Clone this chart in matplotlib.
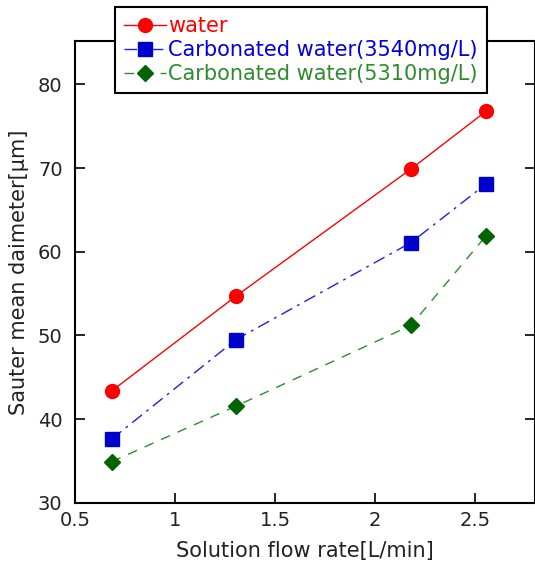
import matplotlib
matplotlib.use('Agg')
import matplotlib.pyplot as plt

# flow rate [L/min]
flow_rate = [0.683, 1.305, 2.18, 2.555]
water = [43.35, 54.7, 69.9, 76.8]
carb_3540 = [37.6, 49.5, 61.1, 68.1]
carb_5310 = [34.9, 41.55, 51.2, 61.9]

labels = ['water', 'Carbonated water(3540mg/L)', 'Carbonated water(5310mg/L)']
text_colors = ['red', '#0000dd', '#2e8b2e']

plt.rcParams['font.family'] = ['DejaVu Sans', 'Noto Sans CJK JP']
plt.rcParams['font.size'] = 14

fig = plt.figure(figsize=(5.35, 5.62), dpi=100)
ax = fig.add_axes([75 / 535, 59.3 / 562, 460 / 535, 461.7 / 562])

ax.plot(flow_rate, water, color='red', lw=1, marker='o', ms=10, label=labels[0])
ax.plot(flow_rate, carb_3540, color='#2020e0', lw=1, ls=(0, (9, 4, 2, 4)),
        marker='s', ms=10, mfc='#0000cd', mec='#0000cd', label=labels[1])
ax.plot(flow_rate, carb_5310, color='#2e8b2e', lw=1, ls=(0, (7, 6)),
        marker='D', ms=8, mfc='#006400', mec='#006400', label=labels[2])

ax.set_xlim(0.5, 2.8)
ax.set_ylim(30, 85.2)
ax.set_xticks([0.5, 1, 1.5, 2, 2.5])
ax.set_xticklabels(['0.5', '1', '1.5', '2', '2.5'])
ax.set_yticks([30, 40, 50, 60, 70, 80])
ax.tick_params(direction='in', length=7, width=1.2, top=True, right=True,
               labelcolor='#222222')
ax.tick_params(axis='x', pad=6)
ax.tick_params(axis='y', pad=9)
for s in ax.spines.values():
    s.set_linewidth(1.5)

ax.set_xlabel('Solution flow rate[L/min]', color='#222222', fontsize=15, labelpad=8)
ax.set_ylabel('Sauter mean daimeter[\u03bcm]', color='#222222', fontsize=15, labelpad=6)

leg = fig.legend(loc='upper left', bbox_to_anchor=(115 / 535, 1 - 7 / 562),
                 fancybox=False, edgecolor='black', framealpha=1, fontsize=15,
                 handlelength=2.0, handletextpad=0.1,
                 labelspacing=0.18, borderpad=0.45, borderaxespad=0)
leg.get_frame().set_linewidth(1.5)
for t, c in zip(leg.get_texts(), text_colors):
    t.set_color(c)

fig.savefig('out.png', dpi=100)
